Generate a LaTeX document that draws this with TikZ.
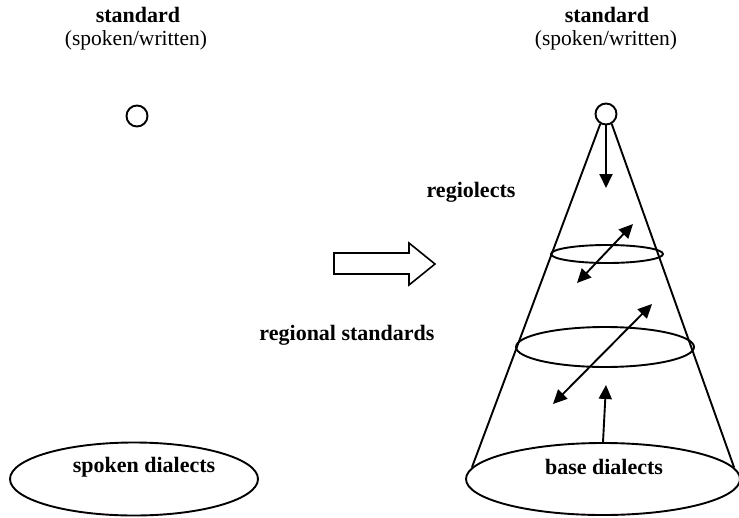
\documentclass[tikz,border=0pt]{standalone}
\usepackage{fontspec}
\setmainfont{Liberation Serif}
\usetikzlibrary{arrows.meta,shapes.geometric}
\begin{document}
\begin{tikzpicture}[x=1pt,y=-1pt,line width=1.9pt,
  txt/.style={font=\fontsize{21.5}{25}\selectfont, inner sep=0pt},
  btxt/.style={font=\fontsize{22}{25}\selectfont\bfseries, inner sep=0pt},
  dot/.style={circle, draw, minimum size=21pt, inner sep=0pt},
  ell/.style={ellipse, draw, inner sep=0pt},
  arr/.style={-{Triangle[length=14pt,width=13pt]}},
  darr/.style={{Triangle[length=14pt,width=13pt]}-{Triangle[length=14pt,width=13pt]}}]
\useasboundingbox (0,0) rectangle (739,517);
% left side
\node[btxt] (ls) at (138,15) {standard};
\node[txt] (lsw) at (136,40) {(spoken/written)};
\node[dot] (lc) at (137,116) {};
\node[ell, minimum width=248pt, minimum height=73pt] (lb) at (134,479) {};
\node[btxt] (lbt) at (144,467) {spoken dialects};
% big hollow arrow
\draw[line width=1.6pt, line join=miter] (334,253) -- (409,253) -- (409,243) -- (435,264) -- (409,285) -- (409,274) -- (334,274) -- cycle;
% right side
\node[btxt] (rs) at (607,15) {standard};
\node[txt] (rsw) at (606,40) {(spoken/written)};
\node[dot] (rc) at (606,114) {};
\node[ell, minimum width=274pt, minimum height=72pt] (rb) at (603,479) {};
\node[btxt] (rbt) at (604,467) {base dialects};
\node[ell, minimum width=112pt, minimum height=18pt] (e1) at (607,254) {};
\node[ell, minimum width=178pt, minimum height=40pt] (e2) at (605,347) {};
\draw (rc.240) -- (rb.175);
\draw (rc.300) -- (rb.5);
\node[btxt] (reg) at (471,192) {regiolects};
\node[btxt] (rst) at (347,335) {regional standards};
% arrows
\coordinate (d1) at (606,188);
\draw[arr] (rc.south) -- (d1);
\coordinate (a1) at (577,283);
\coordinate (a2) at (633,224);
\draw[darr] (a1) -- (a2);
\coordinate (b1) at (553,404);
\coordinate (b2) at (652,304);
\draw[darr] (b1) -- (b2);
\coordinate (u1) at (606,385);
\draw[arr] (rb.north) -- (u1);
\end{tikzpicture}
\end{document}
